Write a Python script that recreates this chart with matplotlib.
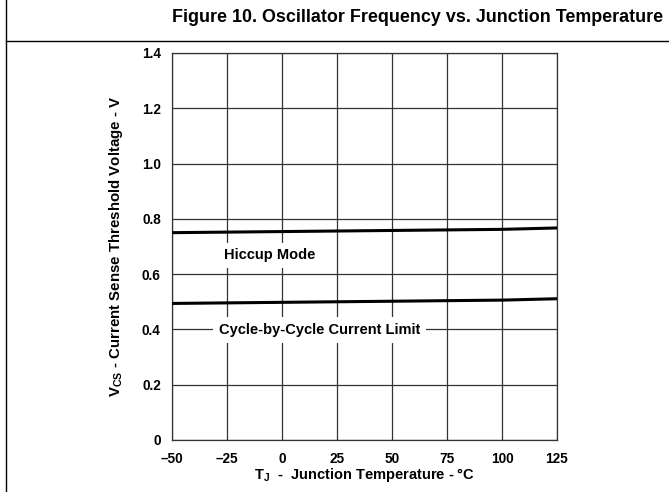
import matplotlib
matplotlib.use('Agg')
import matplotlib.pyplot as plt
from matplotlib.lines import Line2D

plt.rcParams['font.family'] = ['Liberation Sans', 'DejaVu Sans']
plt.rcParams['font.weight'] = 'bold'
plt.rcParams['mathtext.fontset'] = 'custom'
plt.rcParams['mathtext.rm'] = 'Liberation Sans:bold'

# Datos
temp = [-50, -25, 0, 25, 50, 75, 100, 125]
hiccup = [0.750, 0.752, 0.754, 0.756, 0.758, 0.760, 0.762, 0.767]
cycle_limit = [0.494, 0.496, 0.498, 0.500, 0.502, 0.504, 0.506, 0.511]

x_ticks = [-50, -25, 0, 25, 50, 75, 100, 125]
x_labels = ['\u201350', '\u201325', '0', '25', '50', '75', '100', '125']
y_ticks = [0, 0.2, 0.4, 0.6, 0.8, 1.0, 1.2, 1.4]
y_labels = ['0', '0.2', '0.4', '0.6', '0.8', '1.0', '1.2', '1.4']

fig = plt.figure(figsize=(6.69, 4.92), dpi=100)
ax = fig.add_axes([0.257, 0.1057, 0.5755, 0.7866])

ax.plot(temp, hiccup, color='black', linewidth=2.2, zorder=3)
ax.plot(temp, cycle_limit, color='black', linewidth=2.2, zorder=3)

ax.set_xlim(-50, 125)
ax.set_ylim(0, 1.4)
ax.set_xticks(x_ticks)
ax.set_xticklabels(x_labels)
ax.set_yticks(y_ticks)
ax.set_yticklabels(y_labels)
ax.tick_params(length=0, labelsize=9.8, pad=8)
ax.tick_params(axis='x', pad=8.5)
for lbl in ax.get_xticklabels() + ax.get_yticklabels():
    lbl.set_fontweight('bold')
ax.grid(True, color='#333333', linewidth=0.9)
for s in ax.spines.values():
    s.set_color('#333333')
    s.set_linewidth(0.9)

ax.set_xlabel(r'T$_\mathregular{J}$  -  Junction Temperature - °C', fontsize=10.5,
              fontweight='bold', labelpad=0)
ax.set_ylabel(r'V$_\mathregular{CS}$ - Current Sense Threshold Voltage - V', fontsize=10.8,
              fontweight='bold')
ax.yaxis.set_label_coords(-0.122, 0.5)

box = dict(facecolor='white', edgecolor='none', pad=4)
ax.text(-5.5, 0.669, 'Hiccup Mode', fontsize=10.5, fontweight='bold',
        ha='center', va='center', bbox=box, zorder=4)
ax.text(17, 0.398, 'Cycle-by-Cycle Current Limit', fontsize=10.5, fontweight='bold',
        ha='center', va='center', bbox=box, zorder=4)

# Marco y titulo
fig.add_artist(Line2D([6 / 669, 6 / 669], [0, 1], color='black', linewidth=1,
                      transform=fig.transFigure))
fig.add_artist(Line2D([6 / 669, 1], [1 - 41 / 492, 1 - 41 / 492], color='black',
                      linewidth=1, transform=fig.transFigure))
fig.text(663 / 669, 1 - 18 / 492, 'Figure 10. Oscillator Frequency vs. Junction Temperature',
         fontsize=12.9, fontweight='bold', ha='right', va='center')

fig.savefig('out.png', dpi=100)
